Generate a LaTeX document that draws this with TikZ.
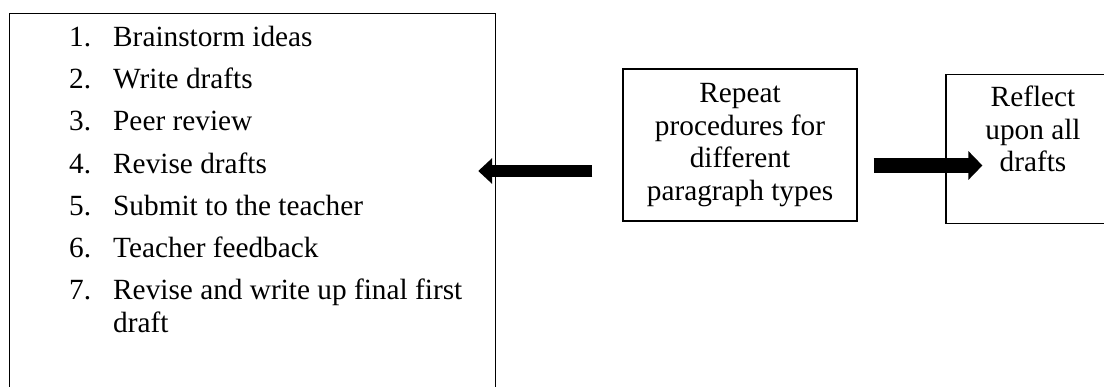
\documentclass[tikz,border=0pt]{standalone}
\usepackage{fontspec}
\setmainfont{Liberation Serif}
\usetikzlibrary{arrows.meta}
\begin{document}
\begin{tikzpicture}[x=1pt,y=-1pt,
  box/.style={draw, line width=1.2pt, inner sep=0pt},
  txt/.style={font=\fontsize{29.3}{32.5}\selectfont, inner sep=0pt},
  itemtxt/.style={txt, anchor=base west},
  bigarrow/.style={line width=#1, -{Triangle[length=14pt,width=#1+13pt]}},
]
\useasboundingbox (0,0) rectangle (1104,387);
\fill[white] (0,0) rectangle (1104,387);
\node[box, minimum width=486pt, minimum height=378pt, anchor=north west] (list) at (9,13) {};
\node[itemtxt] (n1) at (69,47) {1.};
\node[itemtxt] (t1) at (113,47) {Brainstorm ideas};
\node[itemtxt] (n2) at (69,89) {2.};
\node[itemtxt] (t2) at (113,89) {Write drafts};
\node[itemtxt] (n3) at (69,131) {3.};
\node[itemtxt] (t3) at (113,131) {Peer review};
\node[itemtxt] (n4) at (69,174) {4.};
\node[itemtxt] (t4) at (113,174) {Revise drafts};
\node[itemtxt] (n5) at (69,216) {5.};
\node[itemtxt] (t5) at (113,216) {Submit to the teacher};
\node[itemtxt] (n6) at (69,258) {6.};
\node[itemtxt] (t6) at (113,258) {Teacher feedback};
\node[itemtxt] (n7) at (69,300) {7.};
\node[itemtxt] (t7) at (113,300) {Revise and write up final first};
\node[itemtxt] (d7) at (113,333) {draft};

\node[box, txt, minimum width=234pt, minimum height=152pt, align=center] (mid) at (740,145)
  {Repeat\\procedures for\\different\\paragraph types};
\node[box, txt, minimum width=174pt, minimum height=149pt, align=center, anchor=north] (refl) at (1033,74)
  {Reflect\\upon all\\drafts\\[8pt]\mbox{}};

\coordinate (a1) at ([shift={(-30pt,-26pt)}]mid.west);
\coordinate (a2) at ([xshift=-18pt]list.east);
\draw[bigarrow=12pt] (a1) -- (a2 |- a1);
\coordinate (b1) at ([shift={(16pt,-20.5pt)}]mid.east);
\coordinate (b2) at ([xshift=37pt]refl.west);
\draw[bigarrow=15pt] (b1) -- (b2 |- b1);
\end{tikzpicture}
\end{document}
